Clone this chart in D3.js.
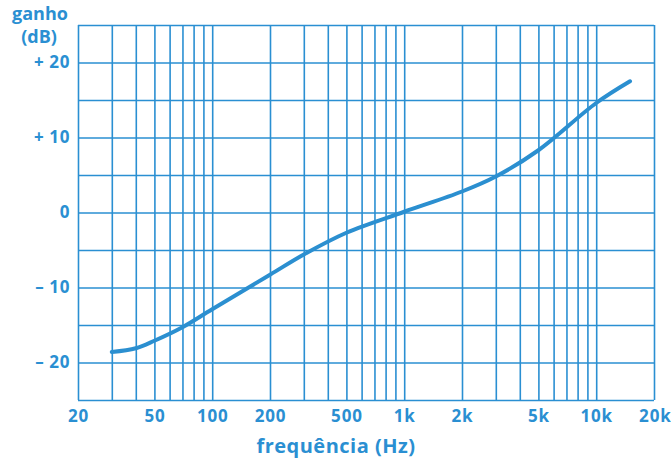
<!DOCTYPE html>
<html>
<head>
<meta charset="utf-8">
<script src="https://cdn.jsdelivr.net/npm/d3@7"></script>
<style>
  html, body { margin: 0; padding: 0; background: #ffffff; }
  svg { display: block; }
  text { font-family: "Open Sans", "Liberation Sans", sans-serif; font-weight: 700; fill: #2a8fd2; }
</style>
</head>
<body>
<script>
// ---- data ----
const freqs = [30, 40, 50, 70, 100, 200, 300, 500, 1000, 2000, 3000, 5000, 10000, 15000];
const gains = [-18.6, -18.1, -17.1, -15.3, -12.9, -8.3, -5.6, -2.7, 0.1, 2.8, 4.8, 8.3, 14.6, 17.5];
const gridFreqs = [20, 30, 40, 50, 60, 70, 80, 90, 100, 200, 300, 400, 500, 600, 700, 800, 900, 1000, 2000, 3000, 4000, 5000, 6000, 7000, 8000, 9000, 10000, 20000];
const xTickValues = [20, 50, 100, 200, 500, 1000, 2000, 5000, 10000, 20000];
const xTickLabels = ["20", "50", "100", "200", "500", "1k", "2k", "5k", "10k", "20k"];
const gridGains = [-25, -20, -15, -10, -5, 0, 5, 10, 15, 20, 25];
const yTickValues = [-20, -10, 0, 10, 20];
const yTickLabels = ["– 20", "– 10", "0", "+ 10", "+ 20"];
const yTitle = ["ganho", "(dB)"];
const xTitle = "frequência (Hz)";

// ---- layout ----
const W = 671, H = 460;
const mLeft = 78, mRight = 654, mTop = 25, mBottom = 400;
const blue = "#2a8fd2";

const svg = d3.select("body").append("svg").attr("width", W).attr("height", H);

const x = d3.scaleLog().domain([20, 20000]).range([mLeft, mRight]);
const y = d3.scaleLinear().domain([-25, 25]).range([mBottom, mTop]);

// vertical grid via axis
const gx = svg.append("g").attr("transform", `translate(0,${mBottom})`)
  .call(d3.axisBottom(x).tickValues(gridFreqs).tickSizeInner(-(mBottom - mTop)).tickSizeOuter(0).tickFormat(""));
gx.select(".domain").remove();
gx.selectAll(".tick line").attr("stroke", blue).attr("stroke-width", 1.6);

// horizontal grid via axis
const gy = svg.append("g").attr("transform", `translate(${mLeft},0)`)
  .call(d3.axisLeft(y).tickValues(gridGains).tickSizeInner(-(mRight - mLeft)).tickSizeOuter(0).tickFormat(""));
gy.select(".domain").remove();
gy.selectAll(".tick line").attr("stroke", blue).attr("stroke-width", 1.6);

// x labels
const lx = svg.append("g").attr("transform", `translate(0,${mBottom})`)
  .call(d3.axisBottom(x).tickValues(xTickValues).tickSize(0).tickPadding(10)
    .tickFormat((d, i) => xTickLabels[i]));
lx.select(".domain").remove();
lx.selectAll("text").attr("font-size", 17).attr("font-weight", 700).attr("fill", blue)
  .attr("letter-spacing", 0.8).attr("font-family", "'Open Sans', sans-serif");
lx.selectAll(".tick").filter(d => d === 20000).select("text").attr("text-anchor", "end").attr("dx", 17);

// y labels
const ly = svg.append("g").attr("transform", `translate(${mLeft},0)`)
  .call(d3.axisLeft(y).tickValues(yTickValues).tickSize(0).tickPadding(8)
    .tickFormat((d, i) => yTickLabels[i]));
ly.select(".domain").remove();
ly.selectAll("text").attr("font-size", 17).attr("font-weight", 700).attr("fill", blue)
  .attr("letter-spacing", 0.6).attr("font-family", "'Open Sans', sans-serif");

// titles
svg.append("text").attr("x", 40).attr("y", 20).attr("text-anchor", "middle")
  .attr("font-size", 18).text(yTitle[0]);
svg.append("text").attr("x", 39).attr("y", 43).attr("text-anchor", "middle")
  .attr("font-size", 18).text(yTitle[1]);
svg.append("text").attr("x", 336).attr("y", 453).attr("text-anchor", "middle")
  .attr("font-size", 20).attr("letter-spacing", 0.5).text(xTitle);

// curve
const pts = freqs.map((f, i) => [f, gains[i]]);
const line = d3.line().x(d => x(d[0])).y(d => y(d[1])).curve(d3.curveCatmullRom.alpha(0.5));
svg.append("path").datum(pts).attr("d", line)
  .attr("fill", "none").attr("stroke", "#2b8fd0").attr("stroke-width", 4)
  .attr("stroke-linecap", "round").attr("stroke-linejoin", "round");
</script>
</body>
</html>
